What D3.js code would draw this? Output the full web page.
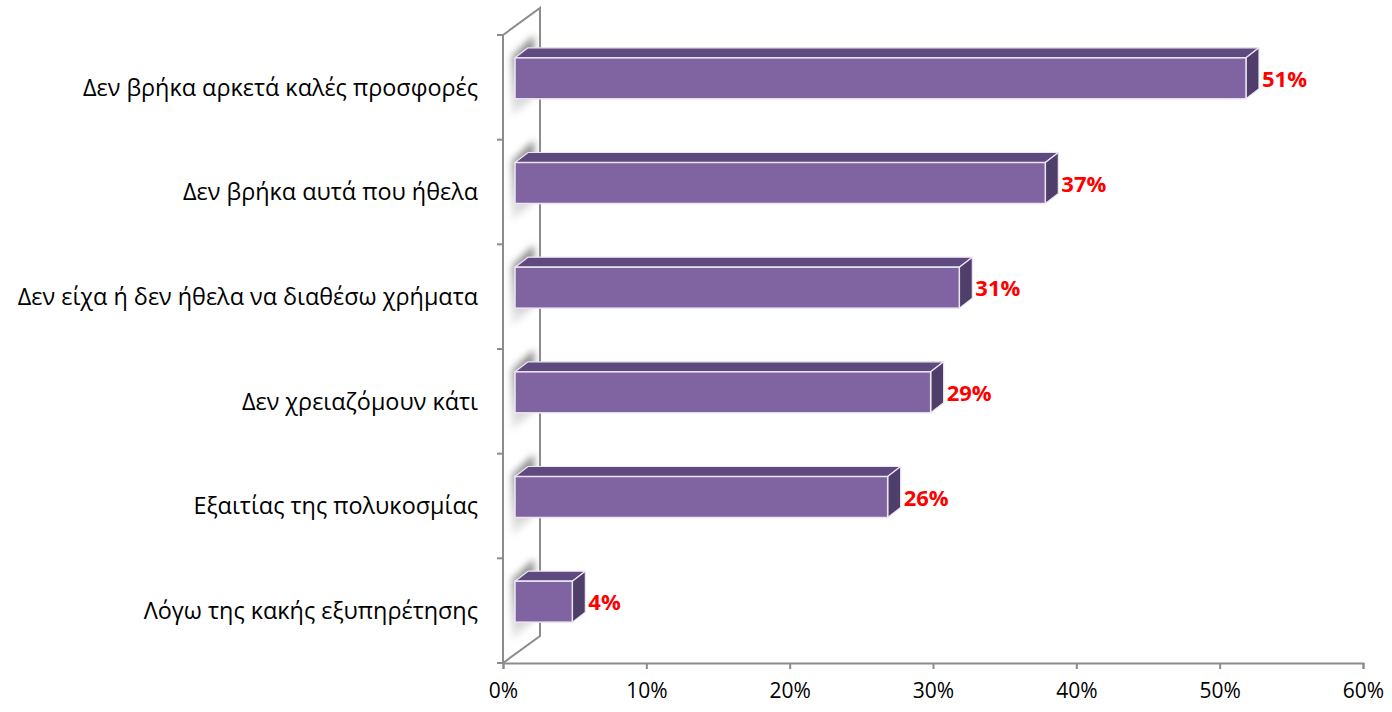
<!DOCTYPE html>
<html>
<head>
<meta charset="utf-8">
<script src="https://cdn.jsdelivr.net/npm/d3@7"></script>
<style>
  html, body { margin: 0; padding: 0; background: #fff; }
  svg { display: block; }
  text { font-family: "Open Sans", "Noto Sans", sans-serif; }
</style>
</head>
<body>
<svg id="chart" width="1392" height="712"></svg>
<script>
// Reasons for not shopping (share of respondents, %)
const categories = [
  "Δεν βρήκα αρκετά καλές προσφορές",
  "Δεν βρήκα αυτά που ήθελα",
  "Δεν είχα ή δεν ήθελα να διαθέσω χρήματα",
  "Δεν χρειαζόμουν κάτι",
  "Εξαιτίας της πολυκοσμίας",
  "Λόγω της κακής εξυπηρέτησης"
];
const values = [51, 37, 31, 29, 26, 4];
const xTicks = [0, 10, 20, 30, 40, 50, 60];

const svg = d3.select("#chart");

// plot frame (front plane of the 3D box)
const plotL = 503, plotR = 1363, plotT = 35, plotB = 663;
const depth = { dx: 37, dy: -27 };     // full depth of the wall
const barOff = { dx: 12, dy: -9 };     // bars sit partway into the depth
const barDepth = { dx: 13, dy: -10 };  // thickness of each bar
const barH = 41;

const x = d3.scaleLinear().domain([0, 60]).range([plotL, plotR]);
const y = d3.scaleBand().domain(categories).range([plotT, plotB]);

const gridColor = "#8c8c8c";

// blur used for the soft shading on the side wall
const defs = svg.append("defs");
const f = defs.append("filter").attr("id", "wallShade")
  .attr("x", "-50%").attr("y", "-50%").attr("width", "200%").attr("height", "200%");
f.append("feGaussianBlur").attr("stdDeviation", 3.5);
const grad = defs.append("linearGradient").attr("id", "shadeGrad")
  .attr("x1", 0).attr("y1", 0).attr("x2", 0).attr("y2", 1);
grad.append("stop").attr("offset", "0%").attr("stop-color", "#707070").attr("stop-opacity", 0.95);
grad.append("stop").attr("offset", "55%").attr("stop-color", "#a0a0a0").attr("stop-opacity", 0.7);
grad.append("stop").attr("offset", "100%").attr("stop-color", "#c0c0c0").attr("stop-opacity", 0.3);

// side wall
const wall = svg.append("g");

// shading cast on the wall by each bar: a slanted band behind the bar
wall.selectAll("path.shade")
  .data(categories)
  .enter().append("path")
  .attr("class", "shade")
  .attr("d", d => {
    const yc = y(d) + y.bandwidth() / 2 + barOff.dy;
    const y0 = yc - barH / 2, y1 = yc + barH / 2;
    const xa = plotL + 9, xb = plotL + 31;
    return `M${xa},${y0 - 2} L${xb},${y0 - 22} L${xb},${y1 - 2} L${xa},${y1 + 18} Z`;
  })
  .attr("fill", "url(#shadeGrad)")
  .attr("filter", "url(#wallShade)");

wall.append("path")
  .attr("d", `M${plotL},${plotT} L${plotL + depth.dx},${plotT + depth.dy} L${plotL + depth.dx},${plotB + depth.dy} L${plotL},${plotB}`)
  .attr("fill", "none").attr("stroke", gridColor).attr("stroke-width", 2);
wall.append("line")
  .attr("x1", plotL).attr("x2", plotL).attr("y1", plotT).attr("y2", plotB)
  .attr("stroke", gridColor).attr("stroke-width", 2);

// category tick marks on the front vertical axis
const yBounds = categories.map(d => y(d)).concat([plotB]);
wall.selectAll("line.ytick")
  .data(yBounds)
  .enter().append("line")
  .attr("x1", plotL - 6).attr("x2", plotL)
  .attr("y1", d => d).attr("y2", d => d)
  .attr("stroke", gridColor).attr("stroke-width", 2);

// horizontal value axis
const xAxis = svg.append("g").attr("transform", `translate(0,${plotB})`)
  .call(d3.axisBottom(x).tickValues(xTicks).tickSize(6).tickPadding(14)
    .tickFormat(d => d + "%"));
xAxis.select(".domain").attr("stroke", gridColor).attr("stroke-width", 2);
xAxis.selectAll(".tick line").attr("stroke", gridColor).attr("stroke-width", 2);
xAxis.selectAll(".tick text")
  .attr("font-size", 21).attr("fill", "#000")
  .style("font-family", "'Open Sans', sans-serif");

// category labels
svg.append("g").selectAll("text")
  .data(categories)
  .enter().append("text")
  .attr("x", 478)
  .attr("y", d => y(d) + y.bandwidth() / 2)
  .attr("dy", "0.35em")
  .attr("text-anchor", "end")
  .attr("font-size", 23.4)
  .attr("fill", "#000")
  .text(d => d);

// 3D bars
const front = "#8064a2", topC = "#5f4a7f", sideC = "#4f3e6a", edge = "#ece6f3";
const data = categories.map((c, i) => ({ c, v: values[i] }));
const bars = svg.append("g").selectAll("g.bar")
  .data(data)
  .enter().append("g").attr("class", "bar");

bars.each(function (d) {
  const g = d3.select(this);
  const x0 = x(0) + barOff.dx;
  const x1 = x(d.v) + barOff.dx;
  const yc = y(d.c) + y.bandwidth() / 2 + barOff.dy;
  const y0 = yc - barH / 2, y1 = yc + barH / 2;
  const ddx = barDepth.dx, ddy = barDepth.dy;
  // top face
  g.append("path")
    .attr("d", `M${x0},${y0} L${x0 + ddx},${y0 + ddy} L${x1 + ddx},${y0 + ddy} L${x1},${y0} Z`)
    .attr("fill", topC).attr("stroke", edge).attr("stroke-width", 1.2).attr("stroke-linejoin", "round");
  // end face
  g.append("path")
    .attr("d", `M${x1},${y0} L${x1 + ddx},${y0 + ddy} L${x1 + ddx},${y1 + ddy} L${x1},${y1} Z`)
    .attr("fill", sideC).attr("stroke", edge).attr("stroke-width", 1.2).attr("stroke-linejoin", "round");
  // front face
  g.append("rect")
    .attr("x", x0).attr("y", y0).attr("width", x1 - x0).attr("height", barH)
    .attr("fill", front).attr("stroke", edge).attr("stroke-width", 1.5);
  // value label
  g.append("text")
    .attr("x", x1 + ddx + 3)
    .attr("y", yc + 1)
    .attr("dy", "0.35em")
    .attr("font-size", 22)
    .attr("font-weight", "bold")
    .attr("fill", "#ff0000")
    .text(d.v + "%");
});
</script>
</body>
</html>
